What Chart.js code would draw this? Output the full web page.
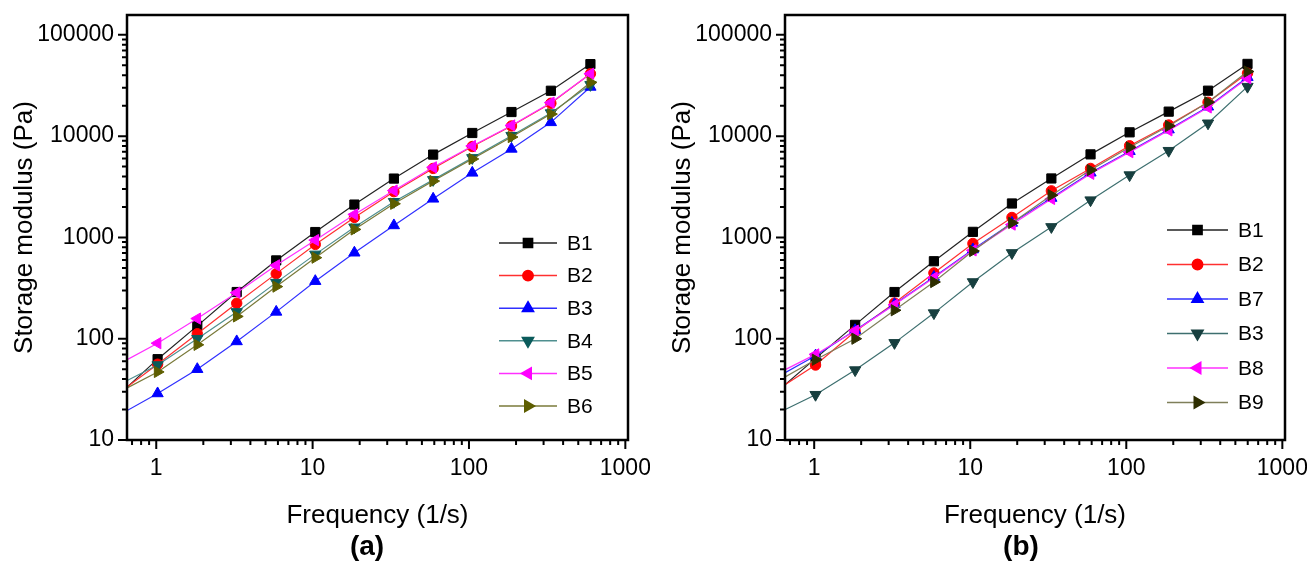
<!DOCTYPE html>
<html>
<head>
<meta charset="utf-8">
<script src="https://cdn.jsdelivr.net/npm/chart.js@4.4.1/dist/chart.umd.min.js"></script>
<style>
  body { margin: 0; background: #fff; width: 1307px; height: 563px; overflow: hidden; position: relative; font-family: "Liberation Sans", Arial, sans-serif; }
  .panel { position: absolute; top: 0; height: 563px; }
  .tag { position: absolute; top: 530px; font-weight: bold; font-size: 28px; transform: translateX(-50%); }
</style>
</head>
<body>
<div class="panel" style="left:0;width:650px"><canvas id="chartA"></canvas></div>
<div class="panel" style="left:658px;width:649px"><canvas id="chartB"></canvas></div>
<div class="tag" style="left:367px">(a)</div>
<div class="tag" style="left:1021px">(b)</div>
<script>
// frequency (1/s), first point lies just left of the visible axis
var freq = [0.57, 1.02, 1.83, 3.27, 5.85, 10.4, 18.5, 33.1, 59, 105, 187, 334, 598];

// panel (a)
var a_B1 = [27.5, 62.8, 134, 289, 593, 1130, 2110, 3810, 6570, 10740, 17300, 28060, 51400];
var a_B2 = [28.6, 56, 112, 224, 439, 853, 1575, 2830, 4800, 7900, 12600, 21100, 41300];
var a_B3 = [17.4, 28.8, 50, 94, 184, 370, 706, 1313, 2405, 4340, 7480, 13680, 30600];
var a_B4 = [34.7, 55, 100, 184, 358, 680, 1260, 2250, 3700, 6100, 10100, 16900, 32100];
var a_B5 = [55.6, 90.3, 158, 285, 530, 940, 1686, 2900, 4920, 8000, 12750, 21400, 41300];
var a_B6 = [29.3, 47, 87, 166, 327, 631, 1200, 2150, 3600, 5950, 9800, 16500, 33900];

// panel (b)
var b_B1 = [29.5, 64, 137, 289, 582, 1135, 2163, 3820, 6607, 10900, 17450, 28100, 51650];
var b_B2 = [30.8, 55, 118, 225, 446, 871, 1574, 2884, 4800, 8040, 12880, 21600, 41800];
var b_B7 = [41.2, 68, 121, 219, 407, 759, 1390, 2450, 4350, 7100, 11600, 19500, 38200];
var b_B3 = [18.1, 28, 49, 91, 179, 363, 703, 1270, 2334, 4125, 7180, 13400, 30800];
var b_B8 = [44.6, 70, 120, 216, 400, 745, 1340, 2400, 4250, 6950, 11400, 19200, 37300];
var b_B9 = [37.3, 62, 100, 191, 363, 735, 1391, 2613, 4620, 7750, 12600, 21600, 43400];

var FONT = '"Liberation Sans", Arial, sans-serif';

// marker styles
var SQ = { style: 'rect', radius: 6.5, rotation: 0 };
var CI = { style: 'circle', radius: 5.2, rotation: 0 };
var UP = { style: 'triangle', radius: 6.5, rotation: 0 };
var DN = { style: 'triangle', radius: 6.5, rotation: 180 };
var LT = { style: 'triangle', radius: 6.5, rotation: -90 };
var RT = { style: 'triangle', radius: 6.5, rotation: 90 };

function makeSet(label, values, line, marker, m, i, n) {
    var pts = [];
    for (var k = 0; k < freq.length; k++) pts.push({ x: freq[k], y: values[k] });
    return {
        label: label,
        data: pts,
        borderColor: line,
        borderWidth: 1.2,
        pointStyle: m.style,
        pointRadius: m.radius,
        pointRotation: m.rotation,
        pointBackgroundColor: marker,
        pointBorderColor: marker,
        pointBorderWidth: 1,
        order: n - i
    };
}

function isDecade(v) {
    var l = Math.log10(v);
    return Math.abs(l - Math.round(l)) < 1e-9;
}

// frame, outward ticks and legend
var framePlugin = {
    id: 'frame',
    afterDraw: function (chart) {
        var ctx = chart.ctx, a = chart.chartArea;
        var xs = chart.scales.x, ys = chart.scales.y;
        ctx.save();
        ctx.strokeStyle = '#000';
        ctx.lineWidth = 2.5;
        ctx.strokeRect(a.left, a.top, a.right - a.left, a.bottom - a.top);
        ctx.lineWidth = 2;
        ctx.beginPath();
        var e, d, v, p, len;
        for (e = -1; e <= 5; e++) {
            for (d = 1; d <= 9; d++) {
                v = d * Math.pow(10, e);
                len = d === 1 ? 9 : 5;
                if (v >= xs.min && v <= xs.max) {
                    p = xs.getPixelForValue(v);
                    ctx.moveTo(p, a.bottom);
                    ctx.lineTo(p, a.bottom + len);
                }
                if (v >= ys.min && v <= ys.max) {
                    p = ys.getPixelForValue(v);
                    ctx.moveTo(a.left, p);
                    ctx.lineTo(a.left - len, p);
                }
            }
        }
        ctx.stroke();

        // legend
        var lg = chart.options.plugins.boxLegend;
        chart.data.datasets.forEach(function (ds, i) {
            var y = lg.y + i * lg.gap;
            ctx.strokeStyle = ds.borderColor;
            ctx.lineWidth = 1.5;
            ctx.beginPath();
            ctx.moveTo(lg.x, y);
            ctx.lineTo(lg.x + lg.len, y);
            ctx.stroke();
            ctx.fillStyle = ds.pointBackgroundColor;
            ctx.strokeStyle = ds.pointBorderColor;
            Chart.helpers.drawPoint(ctx, {
                pointStyle: ds.pointStyle,
                radius: ds.pointRadius,
                rotation: ds.pointRotation,
                borderWidth: 1
            }, lg.x + lg.len / 2, y);
            ctx.fillStyle = '#000';
            ctx.font = '21px ' + FONT;
            ctx.textAlign = 'left';
            ctx.textBaseline = 'middle';
            ctx.fillText(ds.label, lg.x + lg.len + 10, y + 1);
        });
        ctx.restore();
    }
};

function makeChart(id, datasets, legendPos) {
    var ctx = document.getElementById(id).getContext('2d');
    return new Chart(ctx, {
        type: 'line',
        data: { datasets: datasets },
        options: {
            responsive: true,
            maintainAspectRatio: false,
            animation: false,
            layout: { padding: { left: 0, top: 15, right: 22, bottom: 0 } },
            plugins: {
                legend: { display: false },
                tooltip: { enabled: false },
                boxLegend: legendPos
            },
            scales: {
                x: {
                    type: 'logarithmic',
                    min: 0.65,
                    max: 1040,
                    grid: { display: false, drawTicks: false },
                    border: { display: false },
                    ticks: {
                        autoSkip: false,
                        maxRotation: 0,
                        padding: 15,
                        color: '#000',
                        font: { family: FONT, size: 23 },
                        callback: function (v) { return isDecade(v) ? String(Math.round(v)) : ''; }
                    },
                    title: {
                        display: true,
                        text: 'Frequency (1/s)',
                        color: '#000',
                        font: { family: FONT, size: 26 },
                        padding: { top: 0, bottom: 32 }
                    },
                    afterFit: function (s) {
                        s.height = 123;
                        s.paddingLeft = 0;
                        s.paddingRight = 0;
                    }
                },
                y: {
                    type: 'logarithmic',
                    min: 10,
                    max: 157000,
                    grid: { display: false, drawTicks: false },
                    border: { display: false },
                    ticks: {
                        autoSkip: false,
                        padding: 13,
                        color: '#000',
                        font: { family: FONT, size: 23 },
                        callback: function (v) { return isDecade(v) ? String(Math.round(v)) : ''; }
                    },
                    title: {
                        display: true,
                        text: 'Storage modulus (Pa)',
                        color: '#000',
                        font: { family: FONT, size: 26 },
                        padding: { top: 9, bottom: 0 }
                    },
                    afterFit: function (s) {
                        s.width = 127;
                        s.paddingTop = 0;
                        s.paddingBottom = 0;
                    }
                }
            }
        },
        plugins: [framePlugin]
    });
}

var setsA = [
    makeSet('B1', a_B1, '#222222', '#000000', SQ, 0, 6),
    makeSet('B2', a_B2, '#ff3030', '#ff0000', CI, 1, 6),
    makeSet('B3', a_B3, '#3030ff', '#0000ff', UP, 2, 6),
    makeSet('B4', a_B4, '#4f8f8f', '#0b5b5b', DN, 3, 6),
    makeSet('B5', a_B5, '#ff30ff', '#ff00ff', LT, 4, 6),
    makeSet('B6', a_B6, '#7a7a3a', '#5e5e00', RT, 5, 6)
];

var setsB = [
    makeSet('B1', b_B1, '#222222', '#000000', SQ, 0, 6),
    makeSet('B2', b_B2, '#ff3030', '#ff0000', CI, 1, 6),
    makeSet('B7', b_B7, '#3030ff', '#0000ff', UP, 2, 6),
    makeSet('B3', b_B3, '#3d6f6f', '#173f3f', DN, 3, 6),
    makeSet('B8', b_B8, '#ff30ff', '#ff00ff', LT, 4, 6),
    makeSet('B9', b_B9, '#7f7f5a', '#2e2e00', RT, 5, 6)
];

makeChart('chartA', setsA, { x: 499, y: 243, gap: 32.6, len: 58 });
makeChart('chartB', setsB, { x: 509, y: 230, gap: 34.5, len: 61 });
</script>
</body>
</html>
